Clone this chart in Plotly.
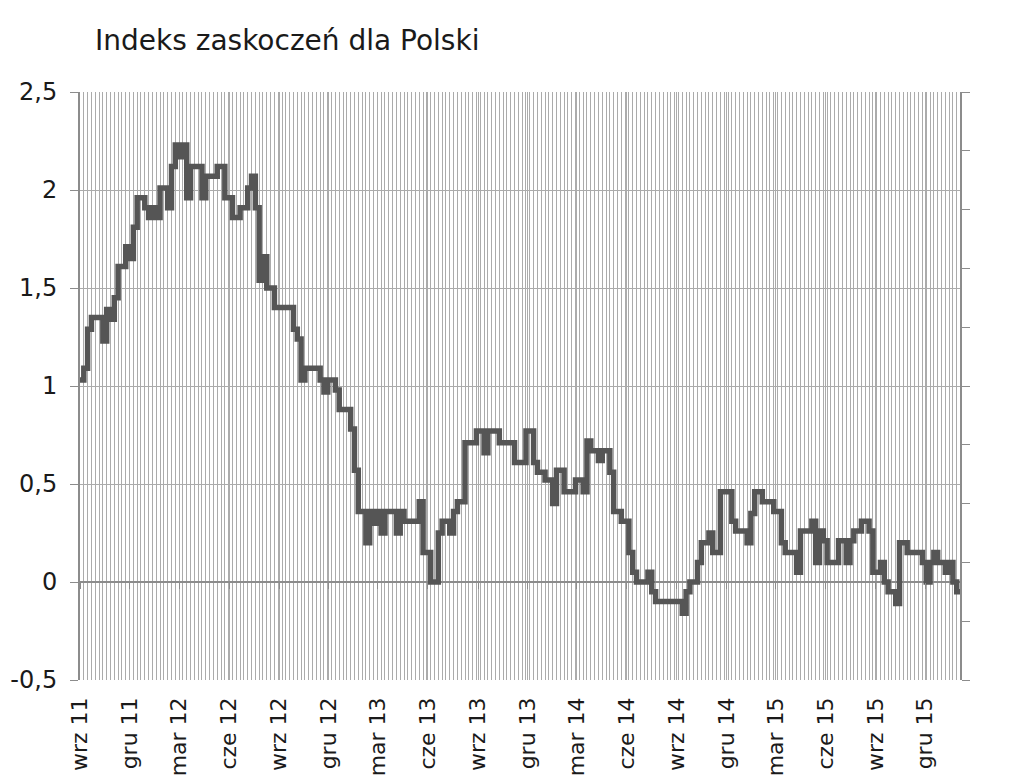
import numpy as np
import pandas as pd
import plotly.graph_objects as go

# step series: week number (from 1 Sep 2011) where the index changes, and its new value
change_weeks = [0, 1, 2, 3, 6, 7, 8, 9, 10, 12, 13, 14, 15, 17, 18, 19, 20, 21, 23, 24,
                25, 26, 27, 28, 29, 32, 33, 36, 38, 40, 42, 44, 45, 46, 47, 48, 49, 51, 56, 57,
                58, 59, 63, 64, 65, 67, 68, 71, 72, 73, 75, 76, 77, 78, 79, 80, 83, 84, 85, 89,
                90, 92, 94, 95, 97, 98, 99, 101, 104, 106, 107, 110, 114, 117, 119, 120, 122, 124, 125, 127,
                130, 132, 133, 134, 136, 137, 139, 140, 142, 144, 145, 146, 149, 150, 151, 158, 159, 160, 162, 163,
                165, 166, 168, 171, 172, 175, 176, 177, 179, 182, 184, 185, 188, 189, 192, 193, 194, 195, 196, 199,
                201, 202, 203, 205, 207, 208, 210, 211, 212, 214, 215, 217, 221, 222, 223, 224, 225, 227, 228, 229,
                230, 231]
change_values = [1.03, 1.09, 1.29, 1.35, 1.23, 1.39, 1.34, 1.45, 1.61, 1.71, 1.65, 1.81, 1.96, 1.91, 1.86, 1.91, 1.86, 2.01, 1.91, 2.12,
                 2.23, 2.17, 2.23, 1.96, 2.12, 1.96, 2.07, 2.12, 1.96, 1.86, 1.91, 2.01, 2.07, 1.91, 1.54, 1.66, 1.50, 1.40, 1.29, 1.24,
                 1.03, 1.09, 1.03, 0.97, 1.03, 0.98, 0.88, 0.78, 0.57, 0.36, 0.20, 0.36, 0.30, 0.36, 0.25, 0.36, 0.25, 0.36, 0.31, 0.41,
                 0.15, 0.00, 0.25, 0.31, 0.25, 0.36, 0.41, 0.71, 0.77, 0.66, 0.77, 0.71, 0.61, 0.77, 0.61, 0.56, 0.52, 0.40, 0.57, 0.46,
                 0.52, 0.46, 0.72, 0.67, 0.62, 0.67, 0.56, 0.36, 0.31, 0.15, 0.05, 0.00, 0.05, -0.05, -0.10, -0.16, -0.05, 0.00, 0.10, 0.20,
                 0.25, 0.15, 0.46, 0.31, 0.26, 0.20, 0.35, 0.46, 0.41, 0.36, 0.20, 0.15, 0.05, 0.26, 0.31, 0.10, 0.26, 0.21, 0.10, 0.21,
                 0.10, 0.21, 0.26, 0.31, 0.26, 0.05, 0.10, 0.00, -0.05, -0.11, 0.20, 0.15, 0.10, 0.00, 0.10, 0.15, 0.10, 0.05, 0.10, 0.00,
                 -0.05, -0.05]

tick_dates = ['2011-09-01', '2011-12-01', '2012-03-01', '2012-06-01', '2012-09-01', '2012-12-01',
              '2013-03-01', '2013-06-01', '2013-09-01', '2013-12-01', '2014-03-01', '2014-06-01',
              '2014-09-01', '2014-12-01', '2015-03-01', '2015-06-01', '2015-09-01', '2015-12-01']
tick_labels = ['wrz 11', 'gru 11', 'mar 12', 'cze 12', 'wrz 12', 'gru 12', 'mar 13', 'cze 13', 'wrz 13',
               'gru 13', 'mar 14', 'cze 14', 'wrz 14', 'gru 14', 'mar 15', 'cze 15', 'wrz 15', 'gru 15']
y_ticks = [-0.5, 0, 0.5, 1, 1.5, 2, 2.5]
y_labels = ['-0,5', '0', '0,5', '1', '1,5', '2', '2,5']

dates = pd.Timestamp('2011-09-01') + pd.to_timedelta(np.array(change_weeks) * 7, unit='D')

WEEK = 7 * 24 * 3600 * 1000
grid = '#ababab'
axis = '#8c8c8c'

fig = go.Figure()
fig.add_trace(go.Scatter(x=dates, y=change_values, mode='lines',
                         line=dict(color='#555555', width=5.5, shape='hv'),
                         hoverinfo='x+y'))

# page body adds an 8px offset, margins are set to land the plot at 80..960 x 92..680
fig.update_layout(
    width=1024, height=784,
    margin=dict(l=72, r=72, t=84, b=112),
    plot_bgcolor='white', paper_bgcolor='white',
    showlegend=False,
    font=dict(family='DejaVu Sans', size=24, color='#1a1a1a'),
    title=dict(text='Indeks zaskoczeń dla Polski', x=87 / 1024, xanchor='left',
               y=1 - 32 / 784, yanchor='middle', font=dict(size=28, color='#1a1a1a')),
    xaxis=dict(type='date', range=['2011-09-01', '2016-02-03'], automargin=False,
               tickvals=tick_dates, ticktext=tick_labels, tickangle=-90,
               tickfont=dict(size=22),
               showgrid=True, gridcolor=grid, gridwidth=1,
               minor=dict(dtick=WEEK, tick0='2011-09-01', showgrid=True, gridcolor=grid, gridwidth=1),
               ticks='', showline=False, zeroline=False, ticklabelstandoff=12),
    xaxis2=dict(type='date', matches='x', overlaying='x', anchor='free', automargin=False,
                position=0.5 / 3, tickvals=tick_dates, showticklabels=False,
                ticks='outside', ticklen=6, tickcolor=axis, showgrid=False,
                showline=False, zeroline=False),
    yaxis=dict(range=[-0.5, 2.5], tickvals=y_ticks, ticktext=y_labels, automargin=False,
               showgrid=True, gridcolor=grid, gridwidth=1,
               zeroline=True, zerolinecolor=axis, zerolinewidth=2,
               showline=True, linecolor=axis, linewidth=2,
               ticks='outside', ticklen=8, tickcolor=axis, ticklabelstandoff=8),
    yaxis2=dict(range=[-0.5, 2.5], overlaying='y', side='right', anchor='x', automargin=False,
                tick0=-0.5, dtick=0.3, showticklabels=False,
                ticks='outside', ticklen=8, tickcolor=axis,
                showline=True, linecolor=axis, linewidth=2,
                showgrid=False, zeroline=False),
)

# invisible traces so the extra axes are drawn
fig.add_trace(go.Scatter(x=[dates[0]], y=[None], xaxis='x2', yaxis='y', showlegend=False, hoverinfo='skip'))
fig.add_trace(go.Scatter(x=[dates[0]], y=[None], xaxis='x', yaxis='y2', showlegend=False, hoverinfo='skip'))

fig.write_html("out.html")
